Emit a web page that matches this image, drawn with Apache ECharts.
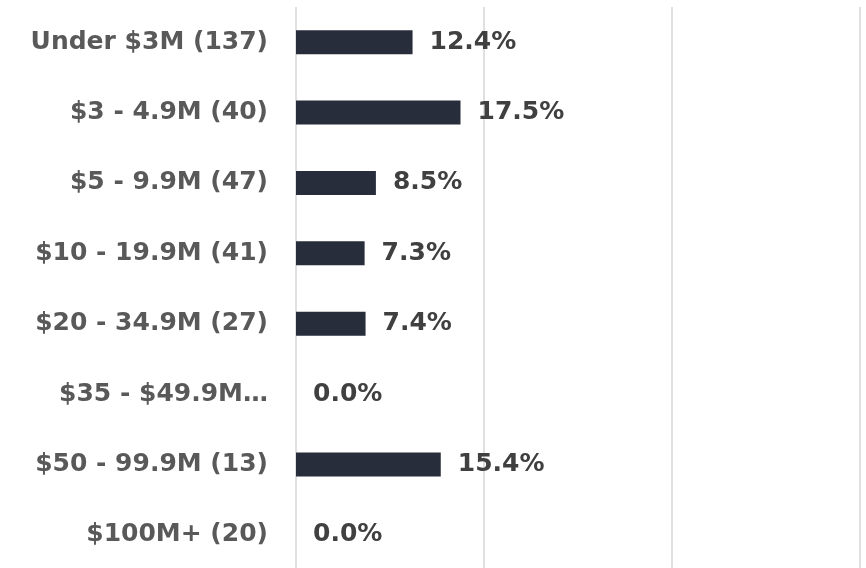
<!DOCTYPE html>
<html>
<head>
<meta charset="utf-8">
<script src="https://cdn.jsdelivr.net/npm/echarts@6/dist/echarts.min.js"></script>
<style>
  html, body { margin: 0; padding: 0; background: #fff; overflow: hidden; }
  #main { width: 866px; height: 574px; }
</style>
</head>
<body>
<div id="main"></div>
<script>
var categories = ['Under $3M (137)', '$3 - 4.9M (40)', '$5 - 9.9M (47)', '$10 - 19.9M (41)',
                  '$20 - 34.9M (27)', '$35 - $49.9M…', '$50 - 99.9M (13)', '$100M+ (20)'];
var shares = [12.4, 17.5, 8.5, 7.3, 7.4, 0.0, 15.4, 0.0];

var myChart = echarts.init(document.getElementById('main'));
var option = {
    animation: false,
    grid: { left: 296, right: 6, top: 7, height: 563, containLabel: false },
    xAxis: {
        type: 'value',
        min: 0,
        max: 60,
        interval: 20,
        axisLabel: { show: false },
        axisLine: { show: false },
        axisTick: { show: false },
        splitLine: { lineStyle: { color: '#d6d6d6', width: 1.5 } }
    },
    yAxis: {
        type: 'category',
        inverse: true,
        data: categories,
        axisLine: { show: false },
        axisTick: { show: false },
        axisLabel: {
            margin: 28,
            color: '#595959',
            fontFamily: 'DejaVu Sans',
            fontWeight: 'bold',
            fontSize: 25
        }
    },
    series: [{
        type: 'bar',
        data: shares,
        barWidth: 24,
        itemStyle: { color: '#272d3a' },
        label: {
            show: true,
            position: 'right',
            distance: 17,
            color: '#404040',
            fontFamily: 'DejaVu Sans',
            fontWeight: 'bold',
            fontSize: 25,
            formatter: function (p) { return p.value.toFixed(1) + '%'; }
        }
    }]
};
myChart.setOption(option);
</script>
</body>
</html>
